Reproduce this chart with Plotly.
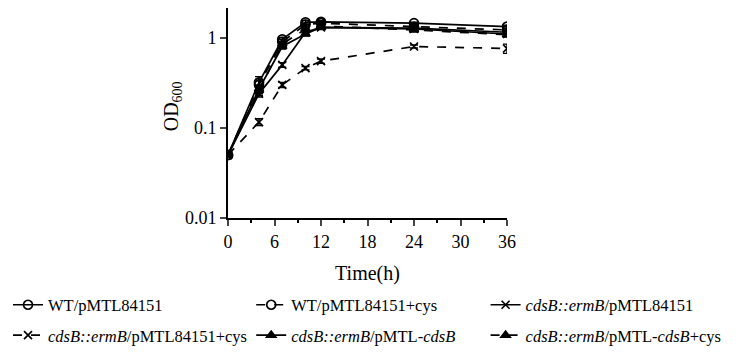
import plotly.graph_objects as go

time_h = [0, 4, 7, 10, 12, 24, 36]

wt = [0.05, 0.32, 0.96, 1.48, 1.50, 1.45, 1.33]
wt_cys = [0.05, 0.30, 0.90, 1.40, 1.45, 1.32, 1.22]
mut = [0.05, 0.24, 0.50, 1.15, 1.30, 1.25, 1.10]
mut_cys = [0.05, 0.116, 0.30, 0.46, 0.55, 0.80, 0.76]
comp = [0.05, 0.27, 0.80, 1.10, 1.30, 1.28, 1.15]
comp_cys = [0.05, 0.26, 0.85, 1.25, 1.35, 1.22, 1.08]

wt_err = [0, 0.05, 0.05, 0.08, 0.05, 0.04, 0.05]
wt_cys_err = [0, 0.04, 0.05, 0.06, 0.05, 0.04, 0.05]
mut_err = [0, 0.02, 0.03, 0.05, 0.05, 0.04, 0.05]
mut_cys_err = [0, 0.01, 0.02, 0.02, 0.03, 0.03, 0.09]
comp_err = [0, 0.03, 0.05, 0.05, 0.05, 0.04, 0.06]
comp_cys_err = [0, 0.03, 0.05, 0.05, 0.05, 0.04, 0.06]

names = [
    "WT/pMTL84151",
    "WT/pMTL84151+cys",
    "<i>cdsB::ermB</i>/pMTL84151",
    "<i>cdsB::ermB</i>/pMTL84151+cys",
    "<i>cdsB::ermB</i>/pMTL-<i>cdsB</i>",
    "<i>cdsB::ermB</i>/pMTL-<i>cdsB</i>+cys",
]

x_ticks = [0, 6, 12, 18, 24, 30, 36]
y_ticks = [0.01, 0.1, 1]
y_ticktext = ["0.01", "0.1", "1"]

x_title = "Time(h)"
y_title = "OD<sub>600</sub>"

# (values, errors, marker, dash, legend column)
series = [
    (wt, wt_err, "circle-open", "solid", "legend"),
    (wt_cys, wt_cys_err, "circle-open", "dash", "legend2"),
    (mut, mut_err, "x-thin-open", "solid", "legend3"),
    (mut_cys, mut_cys_err, "x-thin-open", "dash", "legend"),
    (comp, comp_err, "triangle-up", "solid", "legend2"),
    (comp_cys, comp_cys_err, "triangle-up", "dash", "legend3"),
]

fig = go.Figure()
for i, ((vals, err, sym, dash, leg), name) in enumerate(zip(series, names)):
    fig.add_trace(go.Scatter(
        x=time_h, y=vals, name=name, mode="lines+markers",
        line=dict(color="black", width=1.7, dash=dash),
        marker=dict(symbol=sym, size=9 if "circle" in sym else 8, color="black",
                    line=dict(color="black", width=1.7)),
        error_y=dict(type="data", array=err, color="black", thickness=1.4, width=4),
        legend=leg, legendgroup=f"g{i}",
    ))

font_family = "Liberation Serif, Times New Roman, serif"

leg_common = dict(orientation="v", xref="container", yref="container",
                  xanchor="left", yanchor="middle", y=0.121,
                  font=dict(size=16.5), bgcolor="rgba(0,0,0,0)",
                  itemwidth=30, tracegroupgap=6)

fig.update_layout(
    width=737, height=355,
    margin=dict(l=220, r=238, t=0, b=145, autoexpand=False),
    paper_bgcolor="white", plot_bgcolor="white",
    font=dict(family=font_family, color="black", size=18),
    xaxis=dict(
        range=[0, 36], tickvals=x_ticks, ticks="outside", ticklen=6, tickwidth=2,
        showline=True, linecolor="black", linewidth=2, showgrid=False, zeroline=False,
        tickfont=dict(size=18),
        minor=dict(dtick=3, tick0=0, ticks="outside", ticklen=3, tickwidth=2, tickcolor="black", showgrid=False),
        title=dict(text=x_title, font=dict(size=20)),
    ),
    yaxis=dict(
        type="log", range=[-2, 0.33], tickvals=y_ticks, ticktext=y_ticktext,
        ticks="outside", ticklen=6, tickwidth=2,
        showline=True, linecolor="black", linewidth=2, showgrid=False, zeroline=False,
        tickfont=dict(size=18),
    ),
    annotations=[dict(text=y_title, xref="paper", yref="paper", x=-0.2, y=0.533,
                      xanchor="center", yanchor="middle", textangle=-90,
                      showarrow=False, font=dict(size=20))],
    legend=dict(x=0.0, **leg_common),
    legend2=dict(x=0.330, **leg_common),
    legend3=dict(x=0.648, **leg_common),
)

fig.write_html("out.html")
